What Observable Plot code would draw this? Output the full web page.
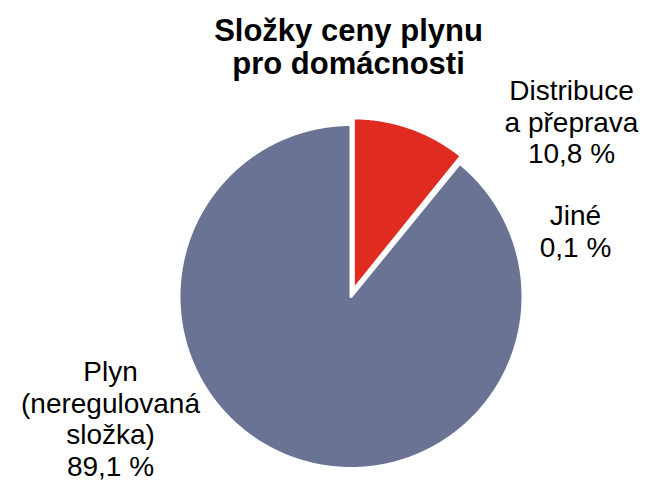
<!DOCTYPE html>
<html lang="cs">
<head>
<meta charset="utf-8">
<script src="https://cdn.jsdelivr.net/npm/d3@7"></script>
<script src="https://cdn.jsdelivr.net/npm/@observablehq/plot@0.6"></script>
<style>
  html, body { margin: 0; padding: 0; background: #ffffff; }
  #chart svg { display: block; }
</style>
</head>
<body>
<div id="chart"></div>
<script>
// ---- data ----
const titleLines = ["Složky ceny plynu", "pro domácnosti"];
const categories = ["Distribuce\na přeprava", "Jiné", "Plyn\n(neregulovaná\nsložka)"];
const shares = [10.8, 0.1, 89.1];
const sliceColors = ["#E02B20", "#A5A5A5", "#6B7394"];

// ---- layout (pixel units, relative to the pie centre, y up) ----
const W = 646, H = 484;
const CX = 350.5, CY = 296;          // pie centre in the frame
const R = 172;                        // pie radius
const EXPLODE = [7, 0, 0];            // slice pull-out
const labelAnchor = [[220.5, 219], [224.5, 94], [-240.5, -62]];
const titleAnchor = [-2.5, 279];

// ---- pie geometry via d3.pie ----
const arcs = d3.pie().sort(null).startAngle(0).endAngle(2 * Math.PI)(shares);
const points = [];
arcs.forEach((a, i) => {
  const mid = (a.startAngle + a.endAngle) / 2;
  const ox = EXPLODE[i] * Math.sin(mid), oy = EXPLODE[i] * Math.cos(mid);
  const name = categories[i];
  points.push({name, x: ox, y: oy});
  const n = Math.max(2, Math.ceil((a.endAngle - a.startAngle) / 0.004));
  for (let k = 0; k <= n; k++) {
    const t = a.startAngle + (a.endAngle - a.startAngle) * k / n;
    points.push({name, x: ox + R * Math.sin(t), y: oy + R * Math.cos(t)});
  }
  points.push({name, x: ox, y: oy});
});

const fmt = v => v.toFixed(1).replace(".", ",") + " %";
const labels = categories.map((c, i) => ({
  text: c + "\n" + fmt(shares[i]),
  x: labelAnchor[i][0],
  y: labelAnchor[i][1]
}));

const chart = Plot.plot({
  width: W,
  height: H,
  margin: 0,
  style: {fontFamily: "'Liberation Sans', Arial, sans-serif", background: "#ffffff", color: "#000000"},
  x: {domain: [-CX, W - CX], range: [0, W], axis: null},
  y: {domain: [CY - H, CY], range: [H, 0], axis: null},
  color: {domain: categories, range: sliceColors},
  marks: [
    Plot.line(points, {
      x: "x", y: "y", z: "name", fill: "name",
      stroke: "#ffffff", strokeWidth: 3, strokeLinejoin: "round", curve: "linear"
    }),
    Plot.text(labels, {
      x: "x", y: "y", text: "text",
      fontSize: 28, lineHeight: 1.13, lineAnchor: "top", textAnchor: "middle", fill: "#000000"
    }),
    Plot.text([titleLines.join("\n")], {
      x: titleAnchor[0], y: titleAnchor[1],
      fontSize: 31, fontWeight: "bold", lineHeight: 1.065, lineAnchor: "top", textAnchor: "middle", fill: "#000000"
    })
  ]
});
document.getElementById("chart").appendChild(chart);
</script>
</body>
</html>
